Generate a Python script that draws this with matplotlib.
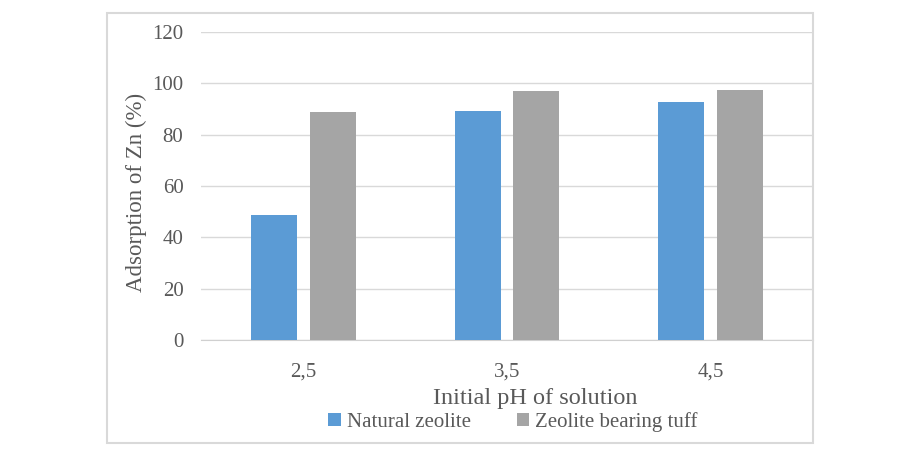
import numpy as np
import matplotlib.pyplot as plt
from matplotlib.patches import Rectangle

categories = ["2,5", "3,5", "4,5"]
natural_zeolite = [48.9, 89.2, 92.5]
zeolite_tuff = [88.9, 97.0, 97.4]
yticks = [0, 20, 40, 60, 80, 100, 120]

plt.rcParams['font.family'] = ['Liberation Serif', 'DejaVu Serif']

fig = plt.figure(figsize=(9.06, 4.59), dpi=100, facecolor="w")
ax = fig.add_axes([0.2224, 0.2586, 0.6744, 0.6724])

# outer chart frame
fig.patches.append(Rectangle((107/906, 1-443/459), (813-107)/906, (443-13)/459,
                             transform=fig.transFigure, fill=False,
                             edgecolor="#d9d9d9", lw=1.5))

X = np.arange(len(categories))
w = 0.226
ax.bar(X - 0.144, natural_zeolite, w, color="#5b9bd5", label="Natural zeolite", zorder=3)
ax.bar(X + 0.144, zeolite_tuff, w, color="#a5a5a5", label="Zeolite bearing tuff", zorder=3)

ax.set_xlim(-0.5, 2.5)
ax.set_ylim(0, 120)
ax.set_yticks(yticks)
ax.set_xticks(X)
ax.set_xticklabels(categories)
ax.yaxis.grid(True, color="#d9d9d9", lw=1)
ax.set_axisbelow(True)
for s in ["top", "right", "left"]:
    ax.spines[s].set_visible(False)
ax.spines["bottom"].set_color("#d0d0d0")
ax.tick_params(length=0, labelsize=15, labelcolor="#595959")
ax.tick_params(axis="x", pad=16)
ax.tick_params(axis="y", pad=13)

ax.set_xlabel("Initial pH of solution", fontsize=17.5, color="#595959")
ax.xaxis.set_label_coords(0.546, -0.155)
ax.set_ylabel("Adsorption of Zn (%)", fontsize=16.5, color="#595959")
ax.yaxis.set_label_coords(-0.089, 0.48)

fig.legend(loc="center", bbox_to_anchor=(513/906, 1-422/459), ncol=2, frameon=False,
           fontsize=15, handlelength=0.6, handleheight=0.6, handletextpad=0.3,
           columnspacing=2.2, labelcolor="#595959")

plt.savefig("out.png", dpi=100)
